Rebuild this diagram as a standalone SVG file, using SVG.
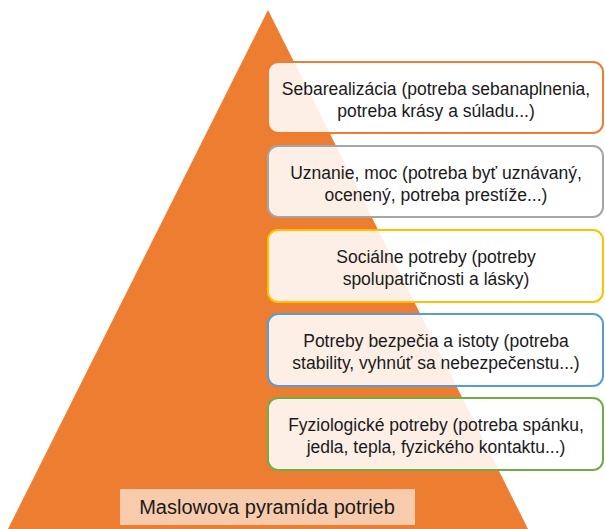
<svg xmlns="http://www.w3.org/2000/svg" width="605" height="529" viewBox="0 0 605 529">
<style>
.box{fill:#ffffff;fill-opacity:0.88;stroke-width:2}
.t{font-family:"Liberation Sans",Arial,sans-serif;font-size:17.5px;fill:#1a1a1a;text-anchor:middle}
</style>
<rect width="605" height="529" fill="#ffffff"/>
<g id="pyramid"><polygon points="268,10 8,529 528,529" fill="#ED7D31"/></g>
<g id="n1"><rect class="box" x="268" y="62" width="335" height="71" rx="10" stroke="#ED7D31"/>
<text class="t" x="436" y="95">Sebarealizácia (potreba sebanaplnenia,</text>
<text class="t" x="436" y="117">potreba krásy a súladu...)</text></g>
<g id="n2"><rect class="box" x="268" y="146" width="335" height="71" rx="10" stroke="#A5A5A5"/>
<text class="t" x="436" y="179">Uznanie, moc (potreba byť uznávaný,</text>
<text class="t" x="436" y="201">ocenený, potreba prestíže...)</text></g>
<g id="n3"><rect class="box" x="268" y="230" width="335" height="72" rx="10" stroke="#FFC000"/>
<text class="t" x="436" y="263">Sociálne potreby (potreby</text>
<text class="t" x="436" y="285">spolupatričnosti a lásky)</text></g>
<g id="n4"><rect class="box" x="268" y="314" width="335" height="72" rx="10" stroke="#5B9BD5"/>
<text class="t" x="436" y="347">Potreby bezpečia a istoty (potreba</text>
<text class="t" x="436" y="369">stability, vyhnúť sa nebezpečenstu...)</text></g>
<g id="n5"><rect class="box" x="268" y="398" width="335" height="72" rx="10" stroke="#70AD47"/>
<text class="t" x="436" y="431">Fyziologické potreby (potreba spánku,</text>
<text class="t" x="436" y="453">jedla, tepla, fyzického kontaktu...)</text></g>
<g id="label"><rect x="120" y="489" width="295" height="36" fill="#F8CBAD"/>
<text class="t" x="267" y="514" style="font-size:20px">Maslowova pyramída potrieb</text></g>
</svg>
